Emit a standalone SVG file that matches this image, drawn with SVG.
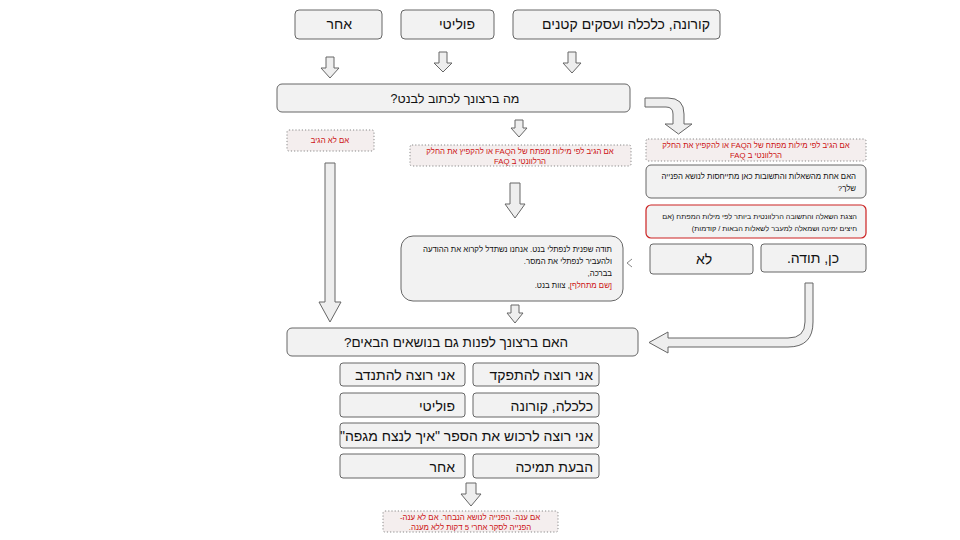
<svg xmlns="http://www.w3.org/2000/svg" width="960" height="540" viewBox="0 0 960 540">
<style>
text{font-family:"Liberation Sans","DejaVu Sans","Noto Sans",sans-serif;direction:rtl;}
.box{fill:#f2f2f2;stroke:#666;stroke-width:1;}
.rbox{fill:#f2f2f2;stroke:#cc2222;stroke-width:1.2;}
.dbox{fill:#f4eeee;stroke:#888;stroke-width:1;stroke-dasharray:1.2 2;}
.arr{fill:#eeeeee;stroke:#666;stroke-width:1;}
.t14{font-size:14px;fill:#111;}
.q1{font-size:12.5px;fill:#111;}
.q2{font-size:13.5px;fill:#111;}
.b{font-size:14px;fill:#111;}
.s{font-size:7.8px;fill:#111;}
.s2{font-size:7.3px;fill:#111;}
.r{font-size:7.8px;fill:#cc1111;}
</style>
<rect width="960" height="540" fill="#ffffff"/>
<g id="connectors">
<path class="arr" d="M326,57 L334,57 L334,68 L339,68 L330,78 L321,68 L326,68 Z"/>
<path class="arr" d="M439,52 L447,52 L447,63 L452,63 L443,72 L434,63 L439,63 Z"/>
<path class="arr" d="M568,52 L576,52 L576,63 L581,63 L572,73 L563,63 L568,63 Z"/>
<path class="arr" d="M645,98 L668,98 Q684,98 684,114 L684,124 L692,124 L678.5,134 L665,124 L673,124 L673,114 Q673,107 666,107 L645,107 Z"/>
<path class="arr" d="M515,120 L523,120 L523,128 L527,128 L519,137 L511,128 L515,128 Z"/>
<path class="arr" d="M325,163 L335,163 L335,302 L341,302 L330,322 L319,302 L325,302 Z"/>
<path class="arr" d="M510,183 L520,183 L520,204 L525,204 L515,218 L505,204 L510,204 Z"/>
<path class="arr" d="M511,305 L519,305 L519,313 L523,313 L515,323 L507,313 L511,313 Z"/>
<path class="arr" d="M805,283 L813,283 L813,322 Q813,347 788,347 L668,347 L668,353 L649,342.5 L668,332 L668,338 L788,338 Q805,338 805,322 Z"/>
<path class="arr" d="M466,483 L476,483 L476,494 L481,494 L471,506 L461,494 L466,494 Z"/>
<path d="M632,259 L627,263 L632,267" fill="none" stroke="#888" stroke-width="1"/>
</g>
<g id="n_other_top"><rect class="box" x="295" y="10" width="87" height="29" rx="4"/><text class="t14" x="352" y="29" text-anchor="start">אחר</text></g>
<g id="n_political_top"><rect class="box" x="401" y="10" width="93" height="29" rx="4"/><text class="t14" x="475" y="29" text-anchor="start">פוליטי</text></g>
<g id="n_corona_top"><rect class="box" x="513" y="10" width="207" height="29" rx="4"/><text class="t14" x="710" y="29" text-anchor="start">קורונה, כלכלה ועסקים קטנים</text></g>
<g id="n_q1"><rect class="box" x="277" y="84" width="353" height="28" rx="5"/><text class="q1" x="455" y="103" text-anchor="middle">מה ברצונך לכתוב לבנט?</text></g>
<g id="n_noreply"><rect class="dbox" x="287" y="130" width="87" height="21" rx="2"/><text class="r" x="330" y="143" text-anchor="middle">אם לא הגיב</text></g>
<g id="n_faq_mid"><rect class="dbox" x="410" y="145" width="221" height="21" rx="2"/><text class="r" x="520" y="154" text-anchor="middle">אם הגיב לפי מילות מפתח של הFAQ או להקפיץ את החלק</text><text class="r" x="520" y="164" text-anchor="middle">הרלוונטי ב FAQ</text></g>
<g id="n_faq_right"><rect class="dbox" x="646" y="139" width="220" height="22" rx="2"/><text class="r" x="756" y="148" text-anchor="middle">אם הגיב לפי מילות מפתח של הFAQ או להקפיץ את החלק</text><text class="r" x="756" y="158" text-anchor="middle">הרלוונטי ב FAQ</text></g>
<g id="n_faq_q"><rect class="box" x="646" y="165" width="220" height="33" rx="5"/><text class="s" x="856" y="179" text-anchor="start">האם אחת מהשאלות והתשובות כאן מתייחסות לנושא הפנייה</text><text class="s" x="856" y="191" text-anchor="start">שלך?</text></g>
<g id="n_faq_show"><rect class="rbox" x="646" y="205" width="220" height="33" rx="5"/><text class="s2" x="857" y="219" text-anchor="start">הצגת השאלה והתשובה הרלוונטית ביותר לפי מילות המפתח (אם</text><text class="s2" x="857" y="231" text-anchor="start">חיצים ימינה ושמאלה למעבר לשאלות הבאות / קודמות)</text></g>
<g id="n_no"><rect class="box" x="650" y="244" width="103" height="30" rx="3"/><text class="t14" x="704" y="264" text-anchor="middle">לא</text></g>
<g id="n_yes"><rect class="box" x="761" y="244" width="105" height="28" rx="3"/><text class="t14" x="813" y="263" text-anchor="middle">כן, תודה.</text></g>
<g id="n_thanks"><rect class="box" x="401" y="236" width="222" height="65" rx="12"/><text class="s" x="612" y="252" text-anchor="start">תודה שפנית לנפתלי בנט. אנחנו נשתדל לקרוא את ההודעה</text><text class="s" x="612" y="264" text-anchor="start">ולהעביר לנפתלי את המסר.</text><text class="s" x="612" y="276" text-anchor="start">בברכה,</text><text class="s" x="612" y="288" text-anchor="start"><tspan fill="#cc1111">[שם מתחלף]</tspan>, צוות בנט.</text></g>
<g id="n_q2"><rect class="box" x="287" y="328" width="351" height="28" rx="5"/><text class="q2" x="456" y="347" text-anchor="middle">האם ברצונך לפנות גם בנושאים הבאים?</text></g>
<g id="n_join"><rect class="box" x="473" y="363" width="126" height="23" rx="3"/><text class="b" x="593" y="380" text-anchor="start">אני רוצה להתפקד</text></g>
<g id="n_volunteer"><rect class="box" x="340" y="363" width="125" height="23" rx="3"/><text class="b" x="455" y="380" text-anchor="start">אני רוצה להתנדב</text></g>
<g id="n_econ"><rect class="box" x="473" y="393" width="126" height="24" rx="3"/><text class="b" x="593" y="411" text-anchor="start">כלכלה, קורונה</text></g>
<g id="n_political"><rect class="box" x="340" y="393" width="125" height="24" rx="3"/><text class="b" x="455" y="411" text-anchor="start">פוליטי</text></g>
<g id="n_book"><rect class="box" x="340" y="423" width="259" height="25" rx="3"/><text class="b" x="593" y="441" text-anchor="start">אני רוצה לרכוש את הספר "איך לנצח מגפה"</text></g>
<g id="n_support"><rect class="box" x="473" y="454" width="126" height="24" rx="3"/><text class="b" x="593" y="472" text-anchor="start">הבעת תמיכה</text></g>
<g id="n_other"><rect class="box" x="340" y="454" width="125" height="24" rx="3"/><text class="b" x="455" y="472" text-anchor="start">אחר</text></g>
<g id="n_note_bottom"><rect class="dbox" x="383" y="511" width="175" height="21" rx="2"/><text class="r" x="470" y="520" text-anchor="middle">אם ענה- הפנייה לנושא הנבחר. אם לא ענה-</text><text class="r" x="470" y="530" text-anchor="middle">הפנייה לסקר אחרי 5 דקות ללא מענה.</text></g>
</svg>
